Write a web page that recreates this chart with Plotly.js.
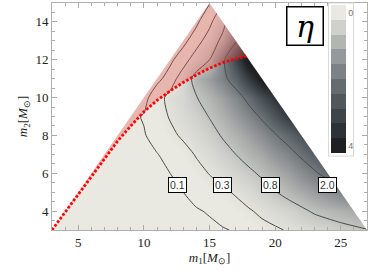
<!DOCTYPE html>
<html>
<head>
<meta charset="utf-8">
<script src="https://cdn.plot.ly/plotly-3.0.1.min.js"></script>
<style>html,body{margin:0;padding:0;background:#fff;}#chart{width:382px;height:270px;}</style>
</head>
<body>
<div id="chart"></div>
<script>
// grid of eta values (rows: m2, columns: m1)
const M1 = [3,5,7,9,10,11,12,13,14,15,16,17,18,19,21,23,25,27];
const M2 = [3,4,5,6,7,8,9,10,11,12,13,14,15];
const ETA_M2_3  = [0,0.005,0.01,0.02,0.025,0.03,0.04,0.05,0.06,0.075,0.09,0.11,0.16,0.21,0.32,0.48,0.64,0.78];
const ETA_M2_4  = [0,0.01,0.02,0.03,0.04,0.05,0.06,0.075,0.09,0.11,0.15,0.2,0.27,0.36,0.56,0.86,1.05,1.2];
const ETA_M2_5  = [0,0.01,0.02,0.04,0.05,0.065,0.08,0.1,0.14,0.19,0.25,0.33,0.45,0.6,0.95,1.35,1.75,2.1];
const ETA_M2_6  = [0,0.01,0.025,0.045,0.06,0.08,0.1,0.15,0.22,0.31,0.42,0.55,0.7,0.88,1.3,1.9,2.6,3.0];
const ETA_M2_7  = [0,0.01,0.03,0.055,0.075,0.095,0.14,0.21,0.32,0.45,0.62,0.8,1.0,1.2,1.75,2.5,3.1,3.5];
const ETA_M2_8  = [0,0.01,0.03,0.06,0.09,0.15,0.24,0.34,0.47,0.63,0.84,1.05,1.3,1.6,2.3,3.1,3.6,3.9];
const ETA_M2_9  = [0,0.01,0.03,0.07,0.11,0.19,0.32,0.45,0.6,0.82,1.05,1.35,1.7,2.1,3.2,3.9,4.2,4.3];
const ETA_M2_10 = [0,0,0.01,0.03,0.05,0.19,0.38,0.52,0.78,1.0,1.3,1.7,2.2,2.8,3.9,4.4,4.5,4.5];
const ETA_M2_11 = [0,0,0,0.01,0.03,0.06,0.16,0.45,1.0,1.35,1.8,2.35,3.2,4.0,4.6,4.6,4.6,4.6];
const ETA_M2_12 = [0,0,0,0,0.005,0.02,0.07,0.18,0.45,0.8,1.8,3.0,4.2,4.5,4.5,4.5,4.5,4.5];
const ETA_M2_13 = [0,0,0,0,0,0.005,0.01,0.06,0.18,0.45,0.95,1.9,3.0,3.8,4,4,4,4];
const ETA_M2_14 = [0,0,0,0,0,0,0.005,0.01,0.07,0.22,0.6,1.3,2.2,3.0,3.5,3.5,3.5,3.5];
const ETA_M2_15 = [0,0,0,0,0,0,0,0.005,0.02,0.09,0.3,0.8,1.6,2.4,3,3,3,3];

// contour levels and their labels
const LEVELS = [0.1, 0.3, 0.8, 2.0];
const LEVEL_TEXT = ['0.1','0.3','0.8','2.0'];
const LABEL_M1 = [12.55, 15.96, 19.67, 23.96];
const LABEL_M2 = [5.4, 5.4, 5.4, 5.4];

// red dotted boundary curve
const CURVE_M1 = [3,5,7,8,9,10,11,12,13,14,15,16,17,17.8];
const CURVE_M2 = [3,4.9,6.8,7.7,8.5,9.25,9.85,10.35,10.8,11.2,11.55,11.85,12.05,12.2];

// domain: m2 <= m1, m1 + m2 <= TOTAL
const M_MIN = 3, M_MAX = 27, M2_MAX = 15, TOTAL = 30;

// colour bands (eta 0 -> 4)
const BANDS = ['#e9e9e1','#d0d1cc','#b3b5b2','#96999b','#7c8285','#656c71','#50575d','#3e444a','#2d3236','#1f2021'];
const CB_TICKS = ['0','4'];

const Z = [ETA_M2_3,ETA_M2_4,ETA_M2_5,ETA_M2_6,ETA_M2_7,ETA_M2_8,ETA_M2_9,ETA_M2_10,ETA_M2_11,ETA_M2_12,ETA_M2_13,ETA_M2_14,ETA_M2_15];

const n = BANDS.length;
const smoothScale = [[0, BANDS[0]]];
BANDS.forEach((c,i)=>smoothScale.push([(i+0.5)/n, c]));
smoothScale.push([1, BANDS[n-1]]);

// stepped scale for colour bar (reversed so 0 is at the top)
const stepScale = [];
const rev = BANDS.slice().reverse();
rev.forEach((c,i)=>{ stepScale.push([i/n, c]); stepScale.push([(i+1)/n, c]); });
const half = 4/(n-1)/2;

const traces = [];
traces.push({type:'heatmap', x:M1, y:M2, z:Z, zmin:0, zmax:4, zsmooth:'best',
  colorscale:smoothScale, showscale:false, hoverinfo:'skip'});
LEVELS.forEach(L=>{
  traces.push({type:'contour', x:M1, y:M2, z:Z, showscale:false, hoverinfo:'skip',
    contours:{start:L, end:L, size:1, coloring:'none', showlabels:false},
    line:{color:'#4a4a4a', width:1, smoothing:0.8}});
});
// white masks outside the allowed triangle
traces.push({type:'scatter', mode:'lines', x:[M_MIN-1, M_MIN-1, M2_MAX+1], y:[M_MIN-1, M2_MAX+1, M2_MAX+1],
  fill:'toself', fillcolor:'#ffffff', line:{width:0}, hoverinfo:'skip', showlegend:false});
traces.push({type:'scatter', mode:'lines', x:[TOTAL-(M2_MAX+1), M_MAX+1, M_MAX+1], y:[M2_MAX+1, M2_MAX+1, TOTAL-(M_MAX+1)],
  fill:'toself', fillcolor:'#ffffff', line:{width:0}, hoverinfo:'skip', showlegend:false});
// red excluded region
const apex = TOTAL/2;
traces.push({type:'scatter', mode:'lines', x:CURVE_M1.concat([apex, CURVE_M1[0]]), y:CURVE_M2.concat([apex, CURVE_M2[0]]),
  fill:'toself', fillcolor:'rgba(228,78,72,0.32)', line:{width:0}, hoverinfo:'skip', showlegend:false});
traces.push({type:'scatter', mode:'lines', x:CURVE_M1, y:CURVE_M2,
  line:{color:'#ff0000', width:2.8, dash:'2.6px,1.9px'}, hoverinfo:'skip', showlegend:false});
// colour bar carrier
traces.push({type:'scatter', mode:'markers', x:[null], y:[null], showlegend:false, hoverinfo:'skip',
  marker:{color:[0], cmin:-4-half, cmax:half, colorscale:stepScale, showscale:true,
    colorbar:{x:0.879, xanchor:'left', y:1.0, yanchor:'top', thickness:15, thicknessmode:'pixels',
      len:152, lenmode:'pixels', xpad:2, ypad:2, outlinewidth:0, bgcolor:'#ffffff',
      bordercolor:'#d8d8d8', borderwidth:1, tickvals:[0,-4], ticktext:CB_TICKS, ticks:'',
      tickfont:{family:'Liberation Sans', size:9, color:'#777'}}}});

const annotations = LEVEL_TEXT.map((t,i)=>({x:LABEL_M1[i], y:LABEL_M2[i], xref:'x', yref:'y', text:t,
  showarrow:false, xanchor:'center', yanchor:'middle', bgcolor:'#ffffff', bordercolor:'#000', borderwidth:1, borderpad:1,
  font:{family:'Liberation Sans', size:10.5, color:'#333'}}));
annotations.push({xref:'paper', yref:'paper', x:0.8016, y:0.8965, xanchor:'center', yanchor:'middle',
  text:'<i>η</i>', showarrow:false,
  width:33, height:35, bgcolor:'#ffffff', bordercolor:'#000', borderwidth:1.5,
  font:{family:'DejaVu Serif', size:30, color:'#000'}});

const tickFont = {family:'Liberation Serif', size:13, color:'#222'};
const layout = {
  width:382, height:270, margin:{l:52, r:15, t:3, b:40},
  paper_bgcolor:'#fff', plot_bgcolor:'#fff', showlegend:false,
  xaxis:{range:[M_MIN, M_MAX], tick0:0, dtick:5, ticks:'inside', ticklen:5, tickcolor:'#aaa',
    mirror:'allticks', showline:true, linecolor:'#b0b0b0', linewidth:1, showgrid:false, zeroline:false,
    minor:{dtick:1, ticks:'inside', ticklen:3, tickcolor:'#aaa', showgrid:false},
    tickfont:tickFont, title:{text:'<i>m</i><sub>1</sub>[<i>M</i><sub>⊙</sub>]', font:{family:'Liberation Serif', size:13, color:'#222'}, standoff:2}},
  yaxis:{range:[M_MIN, M2_MAX], tick0:0, dtick:2, ticks:'inside', ticklen:5, tickcolor:'#aaa',
    mirror:'allticks', showline:true, linecolor:'#b0b0b0', linewidth:1, showgrid:false, zeroline:false,
    minor:{dtick:0.5, ticks:'inside', ticklen:3, tickcolor:'#aaa', showgrid:false},
    tickfont:tickFont, title:{text:'<i>m</i><sub>2</sub>[<i>M</i><sub>⊙</sub>]', font:{family:'Liberation Serif', size:13, color:'#222'}, standoff:4}},
  annotations:annotations
};
Plotly.newPlot('chart', traces, layout, {staticPlot:true, displayModeBar:false});
</script>
</body>
</html>
